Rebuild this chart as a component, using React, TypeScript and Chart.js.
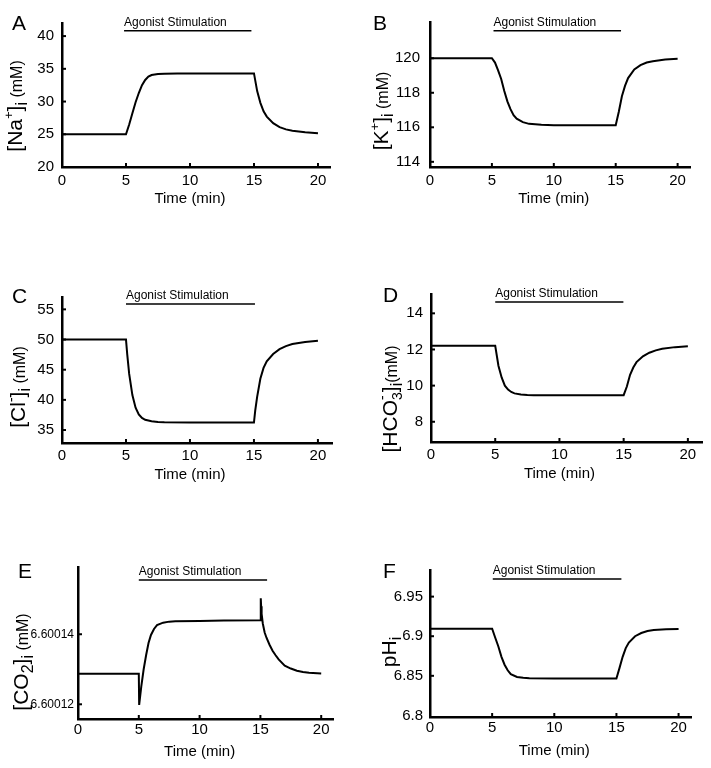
import React, { useEffect, useRef } from "react";
import { Chart, registerables } from "chart.js";

Chart.register(...registerables);

const FONT = "'Liberation Sans', Arial, Helvetica, sans-serif";

// ---------- data ----------
const timeTicks = [0, 5, 10, 15, 20];

const naTime = [0, 5, 5.25, 5.5, 5.75, 6, 6.25, 6.5, 6.75, 7, 7.5, 8, 9, 10, 12, 15, 15.25, 15.5, 15.75, 16, 16.5, 17, 17.5, 18, 19, 20];
const naConc = [25, 25, 26.5, 28.2, 29.9, 31.3, 32.5, 33.3, 33.8, 34.05, 34.2, 34.25, 34.3, 34.3, 34.3, 34.3, 31.6, 29.8, 28.5, 27.7, 26.7, 26.1, 25.75, 25.55, 25.3, 25.15];
const naTicks = [20, 25, 30, 35, 40];

const kTime = [0, 5, 5.25, 5.5, 5.75, 6, 6.25, 6.5, 6.75, 7, 7.5, 8, 9, 10, 15, 15.25, 15.5, 15.75, 16, 16.5, 17, 17.5, 18, 19, 20];
const kConc = [120, 120, 119.75, 119.3, 118.8, 118.1, 117.5, 117.05, 116.7, 116.5, 116.3, 116.2, 116.15, 116.12, 116.12, 116.9, 117.8, 118.4, 118.85, 119.35, 119.6, 119.75, 119.83, 119.93, 119.97];
const kTicks = [114, 116, 118, 120];

const clTime = [0, 5, 5.1, 5.25, 5.5, 5.75, 6, 6.25, 6.5, 7, 7.5, 8, 10, 15, 15.1, 15.25, 15.5, 15.75, 16, 16.5, 17, 17.5, 18, 19, 20];
const clConc = [50, 50, 47.5, 44.3, 40.8, 38.7, 37.6, 37.0, 36.7, 36.45, 36.35, 36.3, 36.25, 36.25, 38.2, 40.5, 43.5, 45.3, 46.4, 47.6, 48.4, 48.9, 49.25, 49.6, 49.8];
const clTicks = [35, 40, 45, 50, 55];

const hcoTime = [0, 5, 5.25, 5.5, 5.75, 6, 6.25, 6.5, 7, 7.5, 8, 10, 15, 15.25, 15.5, 15.75, 16, 16.5, 17, 17.5, 18, 19, 20];
const hcoConc = [12.2, 12.2, 11.1, 10.45, 10.0, 9.78, 9.65, 9.57, 9.51, 9.48, 9.47, 9.47, 9.47, 9.95, 10.6, 11.0, 11.3, 11.62, 11.82, 11.95, 12.04, 12.13, 12.18];
const hcoTicks = [8, 10, 12, 14];

const coTime = [0, 5, 5.03, 5.2, 5.4, 5.6, 5.8, 6, 6.25, 6.5, 7, 7.5, 8, 10, 12, 14.97, 15.03, 15.06, 15.1, 15.2, 15.35, 15.5, 15.75, 16, 16.25, 16.5, 17, 17.5, 18, 18.5, 19, 20];
const coConc = [6.6001287, 6.6001287, 6.6001198, 6.600125, 6.60013, 6.600134, 6.6001375, 6.6001398, 6.6001415, 6.6001426, 6.6001433, 6.6001436, 6.6001437, 6.6001438, 6.6001439, 6.600144, 6.6001503, 6.600148, 6.6001458, 6.600143, 6.6001405, 6.600139, 6.600137, 6.6001353, 6.600134, 6.6001328, 6.600131, 6.6001302, 6.6001296, 6.6001292, 6.600129, 6.6001288];
const coTicks = [6.60012, 6.60014];

const phTime = [0, 5, 5.25, 5.5, 5.75, 6, 6.25, 6.5, 7, 7.5, 8, 10, 15, 15.25, 15.5, 15.75, 16, 16.5, 17, 17.5, 18, 19, 20];
const phVal = [6.9094, 6.9094, 6.898, 6.887, 6.874, 6.864, 6.857, 6.852, 6.8485, 6.8475, 6.847, 6.8467, 6.8467, 6.86, 6.874, 6.885, 6.892, 6.9, 6.904, 6.9065, 6.9078, 6.9088, 6.9092];
const phTicks = [6.8, 6.85, 6.9, 6.95];

// agonist stimulation window per panel (A..F), minutes
const stimOn = [4.85, 5.13, 5.0, 5.0, 5.0, 5.05];
const stimOff = [14.8, 15.43, 15.08, 14.98, 15.55, 15.4];
const stimLabel = "Agonist Stimulation";
const xTitle = "Time (min)";

// ---------- layout ----------
type Seg = { t: string; s: number; dy?: number; keep?: boolean };

interface PanelCfg {
  letter: string;
  time: number[];
  values: number[];
  yTicks: number[];
  idx: number;
  stimLevel: number;
  left: number; top: number; w: number; h: number;
  axisX: number; axisTop: number; axisBottom: number; axisRight: number;
  xMax: number; yMin: number; yMax: number;
  tickFont: number; tickPad: number; xPad: number; titleGap: number;
  yFmt: (v: number) => string;
  letterX: number; letterY: number;
  titleX: number; titleY: number; segs: Seg[];
}

const plain = (v: number) => String(v);

const panels: PanelCfg[] = [
  {
    letter: "A", time: naTime, values: naConc, yTicks: naTicks, idx: 0, stimLevel: 40.8,
    left: 0, top: 0, w: 355, h: 250,
    axisX: 62, axisTop: 23, axisBottom: 167, axisRight: 330,
    xMax: 20.94, yMin: 20, yMax: 42, tickFont: 15, tickPad: 8, xPad: 5, titleGap: 36, yFmt: plain,
    letterX: 12, letterY: 30, titleX: 22, titleY: 106,
    segs: [{ t: "[Na", s: 21 }, { t: "+", s: 13, dy: -9 }, { t: "]", s: 21 }, { t: "i", s: 16, dy: 5 }, { t: " (mM)", s: 16 }],
  },
  {
    letter: "B", time: kTime, values: kConc, yTicks: kTicks, idx: 1, stimLevel: 121.6,
    left: 355, top: 0, w: 356, h: 250,
    axisX: 430, axisTop: 22, axisBottom: 167, axisRight: 690,
    xMax: 21.0, yMin: 113.7, yMax: 122.1, tickFont: 15, tickPad: 10, xPad: 5, titleGap: 36, yFmt: plain,
    letterX: 373, letterY: 30, titleX: 388, titleY: 111,
    segs: [{ t: "[K", s: 21 }, { t: "+", s: 13, dy: -9 }, { t: "]", s: 21 }, { t: "i", s: 16, dy: 5 }, { t: " (mM)", s: 16 }],
  },
  {
    letter: "C", time: clTime, values: clConc, yTicks: clTicks, idx: 2, stimLevel: 55.9,
    left: 0, top: 260, w: 355, h: 245,
    axisX: 62, axisTop: 297, axisBottom: 443, axisRight: 332,
    xMax: 21.1, yMin: 32.85, yMax: 57.05, tickFont: 15, tickPad: 8, xPad: 4, titleGap: 36, yFmt: plain,
    letterX: 12, letterY: 303, titleX: 25, titleY: 387,
    segs: [{ t: "[Cl", s: 21 }, { t: "-", s: 14, dy: -9 }, { t: "]", s: 21 }, { t: "i", s: 16, dy: 5 }, { t: " (mM)", s: 16 }],
  },
  {
    letter: "D", time: hcoTime, values: hcoConc, yTicks: hcoTicks, idx: 3, stimLevel: 14.63,
    left: 355, top: 260, w: 356, h: 245,
    axisX: 431, axisTop: 294, axisBottom: 442, axisRight: 702,
    xMax: 21.1, yMin: 6.88, yMax: 15.07, tickFont: 15, tickPad: 8, xPad: 4, titleGap: 36, yFmt: plain,
    letterX: 383, letterY: 302, titleX: 397, titleY: 399,
    segs: [{ t: "[HCO", s: 21 }, { t: "3", s: 14, dy: 5, keep: true }, { t: "-", s: 14, dy: -10 }, { t: "]", s: 21 }, { t: "i", s: 16, dy: 5 }, { t: "(mM)", s: 16 }],
  },
  {
    letter: "E", time: coTime, values: coConc, yTicks: coTicks, idx: 4, stimLevel: 6.6001555,
    left: 0, top: 545, w: 355, h: 223,
    axisX: 78, axisTop: 567, axisBottom: 719, axisRight: 333,
    xMax: 20.97, yMin: 6.6001158, yMax: 6.6001592, tickFont: 12, tickPad: 4, xPad: 2, titleGap: 37, yFmt: (v) => v.toFixed(5),
    letterX: 18, letterY: 578, titleX: 28, titleY: 662,
    segs: [{ t: "[CO", s: 21 }, { t: "2", s: 16, dy: 5 }, { t: "]", s: 21 }, { t: "i", s: 16, dy: 5 }, { t: " (mM)", s: 16 }],
  },
  {
    letter: "F", time: phTime, values: phVal, yTicks: phTicks, idx: 5, stimLevel: 6.9723,
    left: 355, top: 545, w: 356, h: 223,
    axisX: 430, axisTop: 570, axisBottom: 717, axisRight: 691,
    xMax: 21.0, yMin: 6.798, yMax: 6.9836, tickFont: 15, tickPad: 7, xPad: 2, titleGap: 38, yFmt: plain,
    letterX: 383, letterY: 578, titleX: 396, titleY: 652,
    segs: [{ t: "pH", s: 21 }, { t: "i", s: 16, dy: 5 }],
  },
];

function drawSegs(ctx: CanvasRenderingContext2D, segs: Seg[], bx: number, cy: number) {
  const widths: number[] = [];
  for (const sg of segs) {
    ctx.font = `${sg.s}px ${FONT}`;
    widths.push(ctx.measureText(sg.t).width);
  }
  let total = 0;
  for (let i = 0; i < segs.length; i++) {
    if (segs[i].keep) {
      total += Math.max(widths[i], widths[i + 1] || 0);
      i++;
    } else total += widths[i];
  }
  ctx.save();
  ctx.translate(bx, cy);
  ctx.rotate(-Math.PI / 2);
  ctx.textAlign = "left";
  ctx.textBaseline = "alphabetic";
  ctx.fillStyle = "#000";
  let x = -total / 2;
  for (let i = 0; i < segs.length; i++) {
    const sg = segs[i];
    ctx.font = `${sg.s}px ${FONT}`;
    ctx.fillText(sg.t, x, sg.dy || 0);
    if (sg.keep && segs[i + 1]) {
      const nx = segs[i + 1];
      ctx.font = `${nx.s}px ${FONT}`;
      ctx.fillText(nx.t, x, nx.dy || 0);
      x += Math.max(widths[i], widths[i + 1]);
      i++;
    } else {
      x += widths[i];
    }
  }
  ctx.restore();
}

function Panel({ cfg }: { cfg: PanelCfg }) {
  const ref = useRef<HTMLCanvasElement>(null);
  useEffect(() => {
    const canvas = ref.current;
    if (!canvas) return;
    const on = stimOn[cfg.idx];
    const off = stimOff[cfg.idx];
    const decor = {
      id: "decor" + cfg.letter,
      afterDraw(chart: any) {
        const ctx: CanvasRenderingContext2D = chart.ctx;
        const xs = chart.scales.x;
        const ys = chart.scales.y;
        const ca = chart.chartArea;
        ctx.save();
        ctx.strokeStyle = "#000";
        ctx.lineWidth = 2;
        for (const t of xs.ticks) {
          const px = xs.getPixelForValue(t.value);
          if (Math.abs(px - ca.left) < 2) continue;
          ctx.beginPath();
          ctx.moveTo(px, ca.bottom);
          ctx.lineTo(px, ca.bottom - 4);
          ctx.stroke();
        }
        for (const t of ys.ticks) {
          const py = ys.getPixelForValue(t.value);
          if (Math.abs(py - ca.bottom) < 2) continue;
          ctx.beginPath();
          ctx.moveTo(ca.left, py);
          ctx.lineTo(ca.left + 4, py);
          ctx.stroke();
        }
        ctx.fillStyle = "#000";
        ctx.textBaseline = "alphabetic";
        ctx.textAlign = "left";
        ctx.font = `21px ${FONT}`;
        ctx.fillText(cfg.letter, cfg.letterX - cfg.left, cfg.letterY - cfg.top);
        ctx.font = `12px ${FONT}`;
        ctx.fillText(stimLabel, xs.getPixelForValue(on), ys.getPixelForValue(cfg.stimLevel) - 5);
        ctx.font = `15px ${FONT}`;
        ctx.textAlign = "center";
        ctx.fillText(xTitle, xs.getPixelForValue(10), ca.bottom + cfg.titleGap);
        ctx.restore();
        drawSegs(ctx, cfg.segs, cfg.titleX - cfg.left, cfg.titleY - cfg.top);
      },
    };
    const chart = new Chart(canvas, {
      type: "line",
      data: {
        datasets: [
          {
            data: cfg.time.map((t, i) => ({ x: t, y: cfg.values[i] })),
            borderColor: "#000",
            borderWidth: 2,
            pointRadius: 0,
            tension: 0,
            fill: false,
          },
          {
            data: [
              { x: on, y: cfg.stimLevel },
              { x: off, y: cfg.stimLevel },
            ],
            borderColor: "#000",
            borderWidth: 1.5,
            pointRadius: 0,
            fill: false,
          },
        ],
      },
      options: {
        responsive: false,
        animation: false,
        devicePixelRatio: 1,
        layout: {
          padding: {
            left: 0,
            bottom: 0,
            top: cfg.axisTop - cfg.top,
            right: cfg.left + cfg.w - cfg.axisRight,
          },
        },
        plugins: { legend: { display: false }, tooltip: { enabled: false } },
        scales: {
          x: {
            type: "linear",
            bounds: "data",
            min: 0,
            max: cfg.xMax,
            grid: { display: false, drawTicks: false },
            border: { display: true, color: "#000", width: 2.5 },
            ticks: {
              color: "#000",
              font: { family: FONT, size: 15 },
              padding: cfg.xPad,
              maxRotation: 0,
              autoSkip: false,
              callback: (v: any) => String(v),
            },
            afterBuildTicks: (s: any) => {
              s.ticks = timeTicks.map((v) => ({ value: v }));
            },
            afterFit: (s: any) => {
              s.height = cfg.top + cfg.h - cfg.axisBottom;
            },
          },
          y: {
            type: "linear",
            bounds: "data",
            min: cfg.yMin,
            max: cfg.yMax,
            grid: { display: false, drawTicks: false },
            border: { display: true, color: "#000", width: 2.5 },
            ticks: {
              color: "#000",
              font: { family: FONT, size: cfg.tickFont },
              padding: cfg.tickPad,
              autoSkip: false,
              callback: (v: any) => cfg.yFmt(Number(v)),
            },
            afterBuildTicks: (s: any) => {
              s.ticks = cfg.yTicks.map((v) => ({ value: v }));
            },
            afterFit: (s: any) => {
              s.width = cfg.axisX - cfg.left;
            },
          },
        },
      } as any,
      plugins: [decor],
    });
    return () => chart.destroy();
  }, [cfg]);
  return (
    <canvas
      ref={ref}
      width={cfg.w}
      height={cfg.h}
      style={{ position: "absolute", left: cfg.left, top: cfg.top, width: cfg.w, height: cfg.h }}
    />
  );
}

export default function App() {
  return (
    <div style={{ position: "absolute", left: 0, top: 0, width: 711, height: 768, background: "#fff", overflow: "hidden" }}>
      {panels.map((p) => (
        <Panel key={p.letter} cfg={p} />
      ))}
    </div>
  );
}
